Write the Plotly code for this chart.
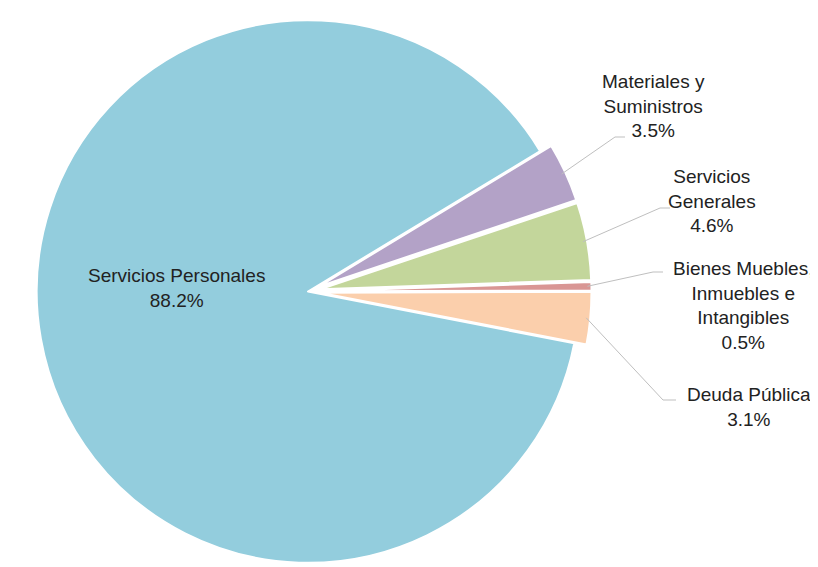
import math
import plotly.graph_objects as go

# ---- data ----
categories = ["Servicios Personales", "Materiales y Suministros", "Servicios Generales",
              "Bienes Muebles, Inmuebles e Intangibles", "Deuda Pública"]
label_lines = [["Servicios Personales"], ["Materiales y", "Suministros"], ["Servicios", "Generales"],
               ["Bienes Muebles,", "Inmuebles e", "Intangibles"], ["Deuda Pública"]]
values = [88.2, 3.5, 4.6, 0.5, 3.1]
colors = ["#93CDDD", "#B3A2C7", "#C3D69B", "#D99694", "#FBCFAC"]
pulls = [0, 0.045, 0.045, 0.045, 0.045]

W, H = 818, 567
ROT = 101  # compass start angle of first slice (clockwise)
dom_x = [0, 600 / W]

fig = go.Figure(go.Pie(
    labels=categories, values=values, sort=False, direction="clockwise",
    rotation=ROT, pull=pulls, textinfo="none", hoverinfo="label+percent",
    marker=dict(colors=colors, line=dict(color="white", width=2)),
    domain=dict(x=dom_x, y=[0, 1]), showlegend=False,
))

# geometry (pixels) matching plotly's pie layout
cx = (dom_x[0] + dom_x[1]) / 2 * W
cy = H / 2
r = min((dom_x[1] - dom_x[0]) * W, H) / 2 / (1 + max(pulls))
total = sum(values)

def px2paper(x, y):
    return x / W, 1 - y / H

# label anchors (layout) and elbow points for the outer labels
label_pos = [(168, 280), (645, 98), (704, 193), (735, 297), (741, 399)]
elbows = [None, ((607, 129), (617, 129)), ((652, 200), (662, 200)),
          ((645, 264), (655, 264)), ((655, 392), (668, 392))]

font = dict(family="Liberation Sans, Arial, sans-serif", size=19, color="#222222")
shapes, annotations = [], []
start = ROT
for i, v in enumerate(values):
    span = v / total * 360
    mid = start + span / 2
    start += span
    text = "<br>".join(label_lines[i] + [f"{v:.1f}%"])
    lx, ly = label_pos[i]
    px, py = px2paper(lx, ly)
    annotations.append(dict(x=px, y=py, xref="paper", yref="paper", text=text,
                            showarrow=False, xanchor="center", yanchor="middle",
                            font=font, align="center"))
    if elbows[i] is not None:
        a = math.radians(mid)
        d = r * (1 + pulls[i]) + r * 0.0 - 4
        sx, sy = cx + d * math.sin(a), cy - d * math.cos(a)
        (ex, ey), (hx, hy) = elbows[i]
        pts = [px2paper(sx, sy), px2paper(ex, ey), px2paper(hx, hy)]
        path = "M {} {} L {} {} L {} {}".format(*[c for p in pts for c in p])
        shapes.append(dict(type="path", path=path, xref="paper", yref="paper",
                           line=dict(color="#BFBFBF", width=1)))

fig.update_layout(width=W, height=H, margin=dict(l=0, r=0, t=0, b=0),
                  paper_bgcolor="white", plot_bgcolor="white",
                  shapes=shapes, annotations=annotations)
fig.write_html("out.html")
